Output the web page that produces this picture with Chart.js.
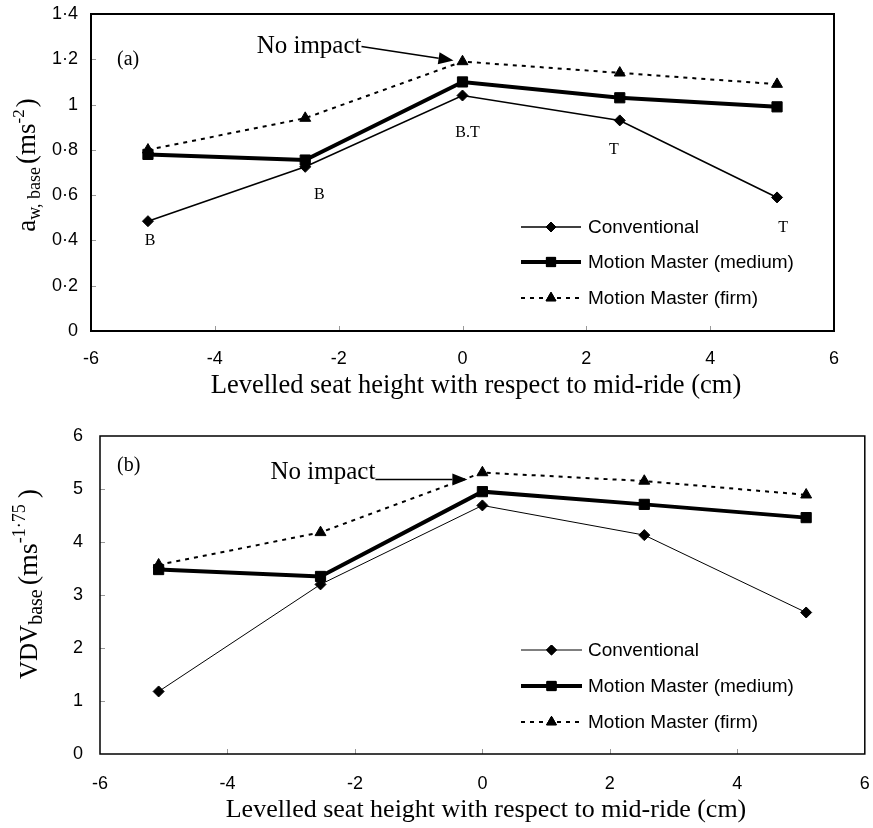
<!DOCTYPE html>
<html>
<head>
<meta charset="utf-8">
<script src="https://cdn.jsdelivr.net/npm/chart.js@4/dist/chart.umd.min.js"></script>
<style>
  html, body { margin: 0; padding: 0; background: #fff; }
  #wrap { position: relative; width: 873px; height: 828px; overflow: hidden; }
  canvas { position: absolute; left: 0; }
  #cA { top: 0; }
  #cB { top: 404px; }
</style>
</head>
<body>
<div id="wrap">
  <canvas id="cA" width="873" height="404"></canvas>
  <canvas id="cB" width="873" height="424"></canvas>
</div>
<script>
// ---------------- DATA ----------------
const seatHeight = [-5.08, -2.54, 0, 2.54, 5.08];
const seriesNames = ['Conventional', 'Motion Master (medium)', 'Motion Master (firm)'];
const awConventional = [0.485, 0.725, 1.04, 0.93, 0.59];
const awMedium = [0.78, 0.755, 1.10, 1.03, 0.99];
const awFirm = [0.80, 0.94, 1.19, 1.14, 1.09];
const vdvConventional = [1.18, 3.20, 4.69, 4.13, 2.67];
const vdvMedium = [3.48, 3.35, 4.95, 4.71, 4.46];
const vdvFirm = [3.57, 4.18, 5.31, 5.15, 4.89];
const awPointLabels = ['B', 'B', 'B.T', 'T', 'T'];
const xTickValues = [-6, -4, -2, 0, 2, 4, 6];
const awTickValues = [0, 0.2, 0.4, 0.6, 0.8, 1, 1.2, 1.4];
const vdvTickValues = [0, 1, 2, 3, 4, 5, 6];
const xAxisTitle = 'Levelled seat height with respect to mid-ride (cm)';
const noImpactText = 'No impact';

// ---------------- HELPERS ----------------
const SANS = '"Liberation Sans", Arial, sans-serif';
const SERIF = '"Liberation Serif", "Times New Roman", serif';

function fmtTick(v) {
  const r = Math.round(v * 10) / 10;
  if (Number.isInteger(r)) return String(r);
  return r.toFixed(1).replace('.', '\u00B7');
}

function pts(xs, ys) { return xs.map((x, i) => ({ x: x, y: ys[i] })); }

function drawMarker(ctx, style, r, x, y) {
  if (Chart.helpers && Chart.helpers.drawPoint) {
    ctx.fillStyle = '#000'; ctx.strokeStyle = '#000'; ctx.lineWidth = 1; ctx.setLineDash([]);
    Chart.helpers.drawPoint(ctx, { pointStyle: style, radius: r, rotation: 0, borderWidth: 1 }, x, y);
    ctx.fill(); ctx.stroke();
  }
}

function makeDatasets(conv, med, firm, convWidth) {
  return [
    { label: seriesNames[0], data: pts(seatHeight, conv), borderColor: '#000', backgroundColor: '#000',
      borderWidth: convWidth, pointStyle: 'rectRot', pointRadius: 5.5, pointBorderWidth: 1, tension: 0 },
    { label: seriesNames[1], data: pts(seatHeight, med), borderColor: '#000', backgroundColor: '#000',
      borderWidth: 4, pointStyle: 'rect', pointRadius: 7.2, pointBorderWidth: 1, tension: 0 },
    { label: seriesNames[2], data: pts(seatHeight, firm), borderColor: '#000', backgroundColor: '#000',
      borderWidth: 2, borderDash: [4, 5], pointStyle: 'triangle', pointRadius: 6.3, pointBorderWidth: 1, tension: 0 }
  ];
}

function decorPlugin(cfg) {
  return {
    id: 'decor',
    afterDraw(chart) {
      const ctx = chart.ctx, a = chart.chartArea, xs = chart.scales.x, ys = chart.scales.y;
      ctx.save();
      // inward tick marks
      ctx.strokeStyle = '#999'; ctx.lineWidth = 1; ctx.setLineDash([]);
      cfg.yTicks.forEach(v => {
        const py = Math.round(ys.getPixelForValue(v)) + 0.5;
        ctx.beginPath(); ctx.moveTo(a.left, py); ctx.lineTo(a.left + 5, py); ctx.stroke();
      });
      cfg.xTicks.forEach(v => {
        const px = Math.round(xs.getPixelForValue(v)) + 0.5;
        ctx.beginPath(); ctx.moveTo(px, a.bottom); ctx.lineTo(px, a.bottom - 5); ctx.stroke();
      });
      // plot box
      ctx.strokeStyle = '#000'; ctx.lineWidth = cfg.boxWidth;
      ctx.strokeRect(a.left, a.top, a.right - a.left, a.bottom - a.top);

      // legend
      const ds = chart.data.datasets;
      ctx.font = '19px ' + SANS; ctx.textBaseline = 'middle'; ctx.textAlign = 'left'; ctx.fillStyle = '#000';
      cfg.legendRows.forEach((off, i) => {
        const d = ds[i], ly = a.bottom - off;
        ctx.strokeStyle = '#000'; ctx.lineWidth = d.borderWidth; ctx.setLineDash(d.borderDash || []);
        ctx.beginPath(); ctx.moveTo(cfg.legendX0, ly); ctx.lineTo(cfg.legendX1, ly); ctx.stroke();
        ctx.setLineDash([]);
        drawMarker(ctx, d.pointStyle, d.pointRadius * 0.9, (cfg.legendX0 + cfg.legendX1) / 2, ly);
        ctx.fillStyle = '#000';
        ctx.fillText(d.label, cfg.legendTextX, ly + 1);
      });

      // panel letter
      ctx.font = '20px ' + SERIF; ctx.textBaseline = 'middle'; ctx.textAlign = 'left'; ctx.fillStyle = '#000';
      ctx.fillText(cfg.panel, a.left + cfg.panelDx, a.top + cfg.panelDy);

      // No impact annotation pointing at the firm point at x = 0
      const fx = xs.getPixelForValue(0), fy = ys.getPixelForValue(ds[2].data[2].y);
      const tipX = fx + cfg.arrow.tipDx, tipY = fy + cfg.arrow.tipDy;
      ctx.font = '25px ' + SERIF; ctx.textAlign = 'right'; ctx.textBaseline = 'middle';
      const txtRight = tipX - cfg.arrow.len;
      ctx.fillText(noImpactText, txtRight, fy + cfg.arrow.textDy);
      const sx = txtRight, sy = fy + cfg.arrow.lineDy;
      const ang = Math.atan2(tipY - sy, tipX - sx);
      const hl = 15, hw = 6;
      const bx = tipX - hl * Math.cos(ang), by = tipY - hl * Math.sin(ang);
      ctx.strokeStyle = '#000'; ctx.lineWidth = 1.5;
      ctx.beginPath(); ctx.moveTo(sx, sy); ctx.lineTo(bx, by); ctx.stroke();
      ctx.beginPath();
      ctx.moveTo(tipX, tipY);
      ctx.lineTo(bx + hw * Math.sin(ang), by - hw * Math.cos(ang));
      ctx.lineTo(bx - hw * Math.sin(ang), by + hw * Math.cos(ang));
      ctx.closePath(); ctx.fill();

      // point labels (B, T)
      if (cfg.pointLabels) {
        ctx.font = '16px ' + SERIF; ctx.textAlign = 'center'; ctx.textBaseline = 'middle';
        cfg.pointLabels.forEach((t, i) => {
          const p = ds[0].data[i];
          const o = cfg.pointLabelOffsets[i];
          ctx.fillText(t, xs.getPixelForValue(p.x) + o[0], ys.getPixelForValue(p.y) + o[1]);
        });
      }

      // x axis title
      ctx.font = cfg.xTitleFont + ' ' + SERIF; ctx.textAlign = 'center'; ctx.textBaseline = 'alphabetic';
      ctx.fillText(xAxisTitle, cfg.xTitleX, cfg.xTitleY);

      // y axis title with sub/superscripts
      ctx.translate(cfg.yTitleX, cfg.yTitleY);
      ctx.rotate(-Math.PI / 2);
      ctx.textAlign = 'left'; ctx.textBaseline = 'alphabetic';
      let total = 0;
      cfg.yTitle.forEach(s => { ctx.font = s.size + 'px ' + SERIF; total += ctx.measureText(s.t).width + (s.gap || 0); });
      let cx = -total / 2;
      cfg.yTitle.forEach(s => {
        ctx.font = s.size + 'px ' + SERIF;
        ctx.fillText(s.t, cx, s.dy + 9);
        cx += ctx.measureText(s.t).width + (s.gap || 0);
      });
      ctx.restore();
    }
  };
}

function noPad(s) { s.paddingLeft = 0; s.paddingRight = 0; s.paddingTop = 0; s.paddingBottom = 0; }

function makeChart(id, datasets, yMin, yMax, yTicks, opts) {
  return new Chart(document.getElementById(id), {
    type: 'line',
    data: { datasets: datasets },
    options: {
      responsive: false, animation: false, devicePixelRatio: 1,
      layout: { padding: opts.padding },
      plugins: { legend: { display: false }, tooltip: { enabled: false }, title: { display: false } },
      scales: {
        x: {
          type: 'linear', min: -6, max: 6,
          afterBuildTicks: s => { s.ticks = xTickValues.map(v => ({ value: v })); },
          ticks: { color: '#000', font: { family: SANS, size: 18 }, padding: opts.xTickPad, callback: v => String(v), maxRotation: 0 },
          grid: { display: false, drawTicks: false }, border: { display: false },
          afterFit: s => { s.height = opts.xHeight; noPad(s); }
        },
        y: {
          type: 'linear', min: yMin, max: yMax,
          afterBuildTicks: s => { s.ticks = yTicks.map(v => ({ value: v })); },
          ticks: { color: '#000', font: { family: SANS, size: 18 }, padding: opts.yTickPad, callback: v => fmtTick(v) },
          grid: { display: false, drawTicks: false }, border: { display: false },
          afterFit: s => { s.width = opts.yWidth; noPad(s); }
        }
      }
    },
    plugins: [decorPlugin(opts.decor)]
  });
}

// ---------------- CHART (a) ----------------
makeChart('cA', makeDatasets(awConventional, awMedium, awFirm, 1.6), 0, 1.4, awTickValues, {
  padding: { top: 14, right: 39, left: 0, bottom: 0 },
  xHeight: 73, yWidth: 91, xTickPad: 17, yTickPad: 13,
  decor: {
    yTicks: awTickValues.slice(1, -1), xTicks: xTickValues.slice(1, -1), boxWidth: 2,
    legendRows: [104, 69, 33], legendX0: 521, legendX1: 581, legendTextX: 588,
    panel: '(a)', panelDx: 26, panelDy: 46,
    arrow: { tipDx: -9, tipDy: -1, len: 92, textDy: -15, lineDy: -15 },
    pointLabels: awPointLabels,
    pointLabelOffsets: [[2, 20], [14, 28], [5, 37], [-6, 29], [6, 30]],
    xTitleFont: '26.5px', xTitleX: 476, xTitleY: 393,
    yTitleX: 26, yTitleY: 165,
    yTitle: [
      { t: 'a', size: 27, dy: 0 },
      { t: 'w, base', size: 18, dy: 5, gap: 3 },
      { t: '(ms', size: 27, dy: 0 },
      { t: '-2', size: 17, dy: -11, gap: 2 },
      { t: ')', size: 27, dy: 0 }
    ]
  }
});

// ---------------- CHART (b) ----------------
makeChart('cB', makeDatasets(vdvConventional, vdvMedium, vdvFirm, 1), 0, 6, vdvTickValues, {
  padding: { top: 32, right: 6, left: 0, bottom: 0 },
  xHeight: 74, yWidth: 100, xTickPad: 19, yTickPad: 17,
  decor: {
    yTicks: vdvTickValues.slice(1, -1), xTicks: xTickValues.slice(1, -1), boxWidth: 1.5,
    legendRows: [104, 68, 32], legendX0: 521, legendX1: 582, legendTextX: 588,
    panel: '(b)', panelDx: 17, panelDy: 30,
    arrow: { tipDx: -15, tipDy: 7, len: 92, textDy: 0, lineDy: 7 },
    pointLabels: null,
    xTitleFont: '26px', xTitleX: 486, xTitleY: 413,
    yTitleX: 28, yTitleY: 180,
    yTitle: [
      { t: 'VDV', size: 25, dy: 0 },
      { t: 'base', size: 20, dy: 5, gap: 4 },
      { t: '(ms', size: 28, dy: 0 },
      { t: '-1\u00B775', size: 18, dy: -12, gap: 6 },
      { t: ')', size: 28, dy: 0 }
    ]
  }
});
</script>
</body>
</html>
